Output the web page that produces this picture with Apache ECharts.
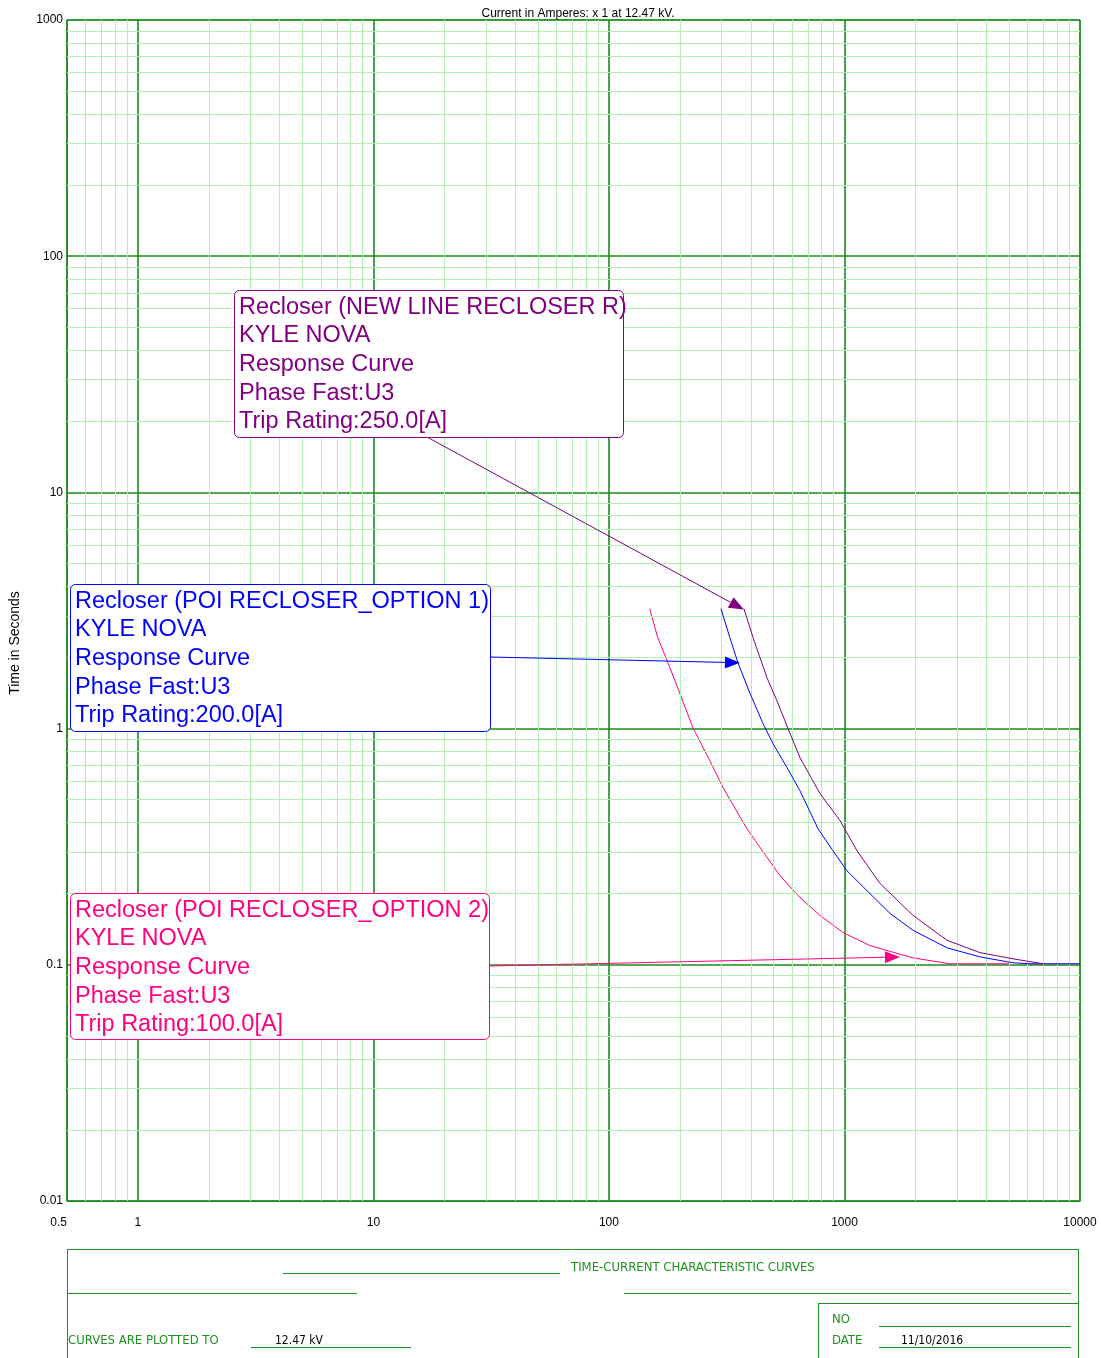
<!DOCTYPE html>
<html>
<head>
<meta charset="utf-8">
<title>TCC</title>
<script src="https://cdn.jsdelivr.net/npm/echarts@6/dist/echarts.min.js"></script>
<style>
  html, body { margin: 0; padding: 0; background: #fff; }
  #chart { width: 1101px; height: 1358px; }
</style>
</head>
<body>
<div id="chart"></div>
<script>
// 曲线数据 (电流 A / 时间 s)
const pinkAmps = [149, 161, 178, 200, 227, 268, 305, 385, 532, 647, 787, 985, 1283, 1954, 2805, 5045];
const pinkSecs = [3.22, 2.43, 1.90, 1.41, 1.01, 0.732, 0.563, 0.377, 0.2385, 0.1925, 0.162, 0.137, 0.1206, 0.107, 0.101, 0.101];

const blueAmps = [299, 326, 353, 397, 451, 497, 570, 647, 772, 893, 1025, 1246, 1561, 1954, 2724, 3762, 5194, 6134, 10000];
const blueSecs = [3.22, 2.43, 1.90, 1.41, 1.05, 0.864, 0.684, 0.546, 0.377, 0.304, 0.250, 0.206, 0.165, 0.140, 0.118, 0.108, 0.102, 0.101, 0.101];

const purpleAmps = [374, 413, 469, 517, 576, 647, 787, 957, 1130, 1415, 1954, 2724, 3762, 5194, 6966];
const purpleSecs = [3.22, 2.36, 1.64, 1.31, 1.0, 0.754, 0.531, 0.408, 0.304, 0.221, 0.162, 0.127, 0.1126, 0.106, 0.101];

// 箭头指向的曲线点
const purpleTarget = [374, 3.19];
const blueTarget = [360, 1.90];
const pinkTarget = [1720, 0.108];

// 次网格线
const minorMult = [2, 3, 4, 5, 6, 7, 8, 9];
const xDecades = [1, 10, 100, 1000];
const yDecades = [0.01, 0.1, 1, 10, 100];
const xMinorLow = [0.6, 0.7, 0.8, 0.9];

const PURPLE = '#800080';
const BLUE = '#0000ff';
const PINK = '#ff0080';
const MAJOR = '#1a8c1a';
const MINOR = '#b0f0b0';
const BLOCK = '#1f8f1f';
const FONT = '"Liberation Sans", Arial, sans-serif';
const NARROW = '"Liberation Sans Narrow", "DejaVu Sans Condensed", sans-serif';

const zip = (xs, ys) => xs.map((x, i) => [x, ys[i]]);
const fmt = (v) => String(+Number(v).toPrecision(6));

const xMinor = xMinorLow.concat(...xDecades.map((d) => minorMult.map((m) => +(d * m).toPrecision(6))));
const yMinor = [].concat(...yDecades.map((d) => minorMult.map((m) => +(d * m).toPrecision(6))));

const chart = echarts.init(document.getElementById('chart'), null, { renderer: 'canvas' });

const curve = (name, color, data, z) => ({
  name: name,
  type: 'line',
  data: data,
  showSymbol: false,
  symbol: 'none',
  smooth: false,
  lineStyle: { color: color, width: 1 },
  z: z,
  silent: true
});

const gridSeries = {
  type: 'line',
  data: [],
  silent: true,
  z: 1,
  markLine: {
    silent: true,
    symbol: 'none',
    label: { show: false },
    lineStyle: { color: MINOR, width: 1, type: 'solid' },
    data: xMinor.map((v) => ({ xAxis: v })).concat(yMinor.map((v) => ({ yAxis: v })))
  }
};

chart.setOption({
  animation: false,
  title: {
    text: 'Current in Amperes: x 1 at 12.47 kV.',
    left: 573,
    top: 3,
    textAlign: 'center',
    textStyle: { fontFamily: FONT, fontSize: 12, fontWeight: 'normal', color: '#000' }
  },
  grid: {
    left: 67, right: 21, top: 20, bottom: 157,
    show: true, borderColor: MAJOR, borderWidth: 1, backgroundColor: '#fff'
  },
  xAxis: {
    type: 'log',
    logBase: 10,
    min: 0.5,
    max: 10000,
    axisLine: { show: true, lineStyle: { color: MAJOR, width: 1 } },
    axisTick: { show: false },
    splitLine: { show: true, lineStyle: { color: MAJOR, width: 1.6 } },
    axisLabel: {
      margin: 16,
      color: '#000',
      fontFamily: FONT,
      fontSize: 12,
      alignMinLabel: 'right',
      formatter: fmt
    },
    z: 3
  },
  yAxis: {
    type: 'log',
    logBase: 10,
    min: 0.01,
    max: 1000,
    axisLine: { show: true, lineStyle: { color: MAJOR, width: 1 } },
    axisTick: { show: false },
    splitLine: { show: true, lineStyle: { color: MAJOR, width: 1.6 } },
    axisLabel: {
      margin: 4,
      color: '#000',
      fontFamily: FONT,
      fontSize: 12,
      formatter: fmt
    },
    z: 3
  },
  series: [
    gridSeries,
    curve('Option 2', PINK, zip(pinkAmps, pinkSecs), 4),
    curve('Option 1', BLUE, zip(blueAmps, blueSecs), 5),
    curve('New line', PURPLE, zip(purpleAmps, purpleSecs), 6)
  ]
});

// 注释框 + 箭头
const noteLines = (title, rating) =>
  ['Recloser (' + title + ')', 'KYLE NOVA', 'Response Curve', 'Phase Fast:U3', 'Trip Rating:' + rating + '[A]'].join('\n');

const notes = [
  { color: PURPLE, box: [234, 290, 389, 147], tail: [427, 437], target: purpleTarget, text: noteLines('NEW LINE RECLOSER R', '250.0') },
  { color: BLUE, box: [70, 584, 420, 147], tail: [490, 657], target: blueTarget, text: noteLines('POI RECLOSER_OPTION 1', '200.0') },
  { color: PINK, box: [70, 893, 419, 146], tail: [489, 966], target: pinkTarget, text: noteLines('POI RECLOSER_OPTION 2', '100.0') }
];

const arrow = (tail, tip, color) => {
  const dx = tip[0] - tail[0], dy = tip[1] - tail[1];
  const len = Math.sqrt(dx * dx + dy * dy);
  const ux = dx / len, uy = dy / len;
  const headLen = 15, headHalf = 6;
  const bx = tip[0] - ux * headLen, by = tip[1] - uy * headLen;
  return [
    {
      type: 'line', silent: true, z: 20,
      shape: { x1: tail[0], y1: tail[1], x2: bx, y2: by },
      style: { stroke: color, lineWidth: 1 }
    },
    {
      type: 'polygon', silent: true, z: 20,
      shape: { points: [tip, [bx - uy * headHalf, by + ux * headHalf], [bx + uy * headHalf, by - ux * headHalf]] },
      style: { fill: color }
    }
  ];
};

const graphics = [];
notes.forEach((n) => {
  const tip = chart.convertToPixel({ gridIndex: 0 }, n.target);
  graphics.push(...arrow(n.tail, tip, n.color));
  graphics.push({
    type: 'rect', silent: true, z: 21,
    shape: { x: n.box[0] + 0.5, y: n.box[1] + 0.5, width: n.box[2], height: n.box[3], r: 5 },
    style: { fill: '#fff', stroke: n.color, lineWidth: 1 }
  });
  graphics.push({
    type: 'text', silent: true, z: 22,
    x: n.box[0] + 5, y: n.box[1] + 3,
    style: {
      text: n.text, fill: n.color, font: '23.5px ' + FONT,
      lineHeight: 28.6, textAlign: 'left', textVerticalAlign: 'top'
    }
  });
});

// 纵轴名
graphics.push({
  type: 'text', silent: true,
  x: 15, y: 643, rotation: Math.PI / 2,
  style: { text: 'Time in Seconds', fill: '#000', font: '14px ' + FONT, textAlign: 'center', textVerticalAlign: 'middle' }
});

// 标题栏
const hline = (x1, x2, y) => ({
  type: 'line', silent: true,
  shape: { x1: x1, y1: y + 0.5, x2: x2, y2: y + 0.5 },
  style: { stroke: BLOCK, lineWidth: 1 }
});
const vline = (x, y1, y2) => ({
  type: 'line', silent: true,
  shape: { x1: x + 0.5, y1: y1, x2: x + 0.5, y2: y2 },
  style: { stroke: BLOCK, lineWidth: 1 }
});
const label = (text, x, y, color) => ({
  type: 'text', silent: true, x: x, y: y,
  style: {
    text: text, fill: color || BLOCK,
    font: (color ? '12px ' : '13px ') + NARROW,
    textAlign: 'left', textVerticalAlign: 'middle'
  }
});

graphics.push(
  hline(67, 1078, 1249),
  vline(67, 1249, 1358),
  vline(1078, 1249, 1358),
  hline(283, 560, 1273),
  hline(67, 357, 1293),
  hline(624, 1071, 1293),
  hline(818, 1078, 1303),
  vline(818, 1303, 1358),
  hline(879, 1071, 1326),
  hline(879, 1071, 1347),
  hline(251, 411, 1347),
  label('TIME-CURRENT CHARACTERISTIC CURVES', 571, 1268),
  label('NO', 832, 1320),
  label('DATE', 832, 1341),
  label('11/10/2016', 901, 1341, '#000'),
  label('CURVES ARE PLOTTED TO', 68, 1341),
  label('12.47 kV', 275, 1341, '#000')
);

chart.setOption({ graphic: graphics });
</script>
</body>
</html>
